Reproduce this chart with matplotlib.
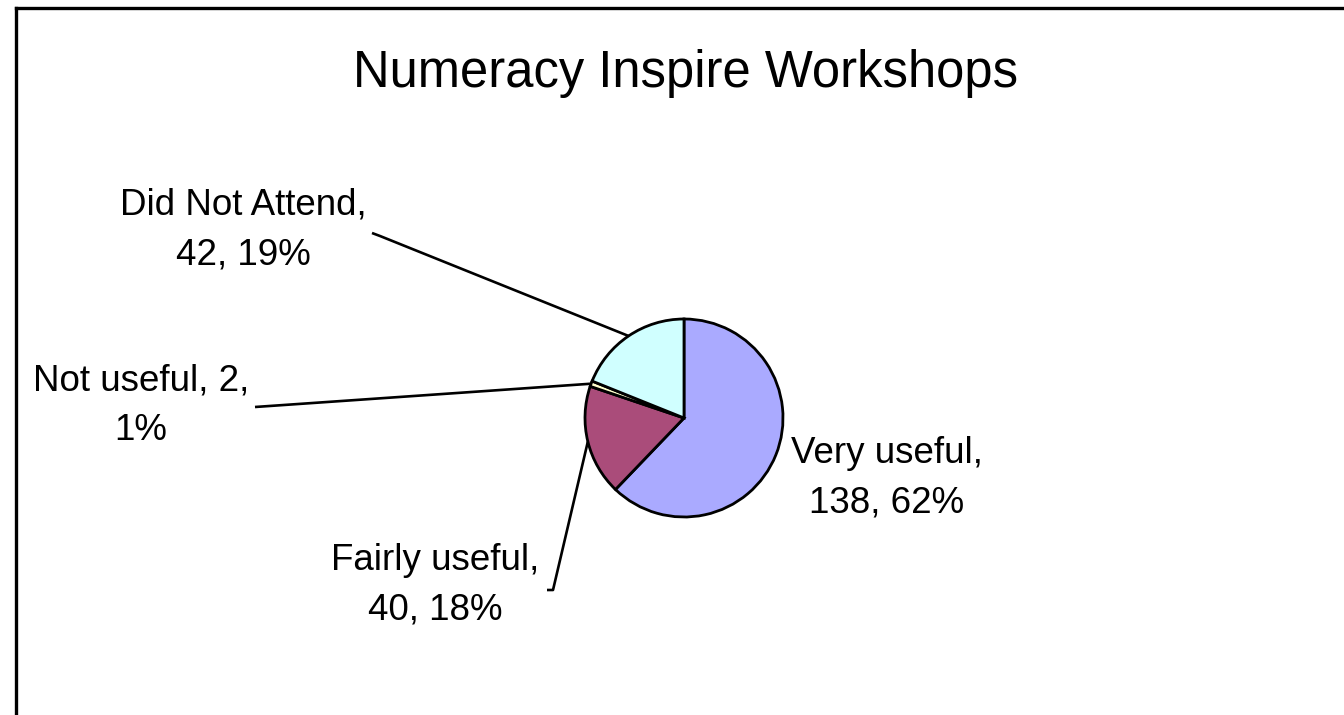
import numpy as np
import matplotlib
matplotlib.use("Agg")
import matplotlib.pyplot as plt

# ---- data ----
categories = ["Very useful", "Fairly useful", "Not useful", "Did Not Attend"]
values = [138, 40, 2, 42]
colors = ["#AAAAFF", "#AA4C7A", "#FFFFCC", "#D0FFFF"]
break_after_value = [False, False, True, False]
title = "Numeracy Inspire Workshops"

W, H = 1344, 715
fig = plt.figure(figsize=(W / 100, H / 100), dpi=100)
ax = fig.add_axes([0, 0, 1, 1])

def Y(yi):
    return H - yi

cx, cy, r = 684, Y(418), 99
wedges, _ = ax.pie(values, colors=colors, startangle=90, counterclock=False,
                   center=(cx, cy), radius=r,
                   wedgeprops=dict(edgecolor="black", linewidth=2))
ax.set_xlim(0, W)
ax.set_ylim(0, H)
ax.set_aspect("equal")
ax.axis("off")

total = sum(values)
font = ["Liberation Sans", "DejaVu Sans"]
fs = 26.5

# label layout (image coords): center x, center y of the 2-line block
label_pos = [(887, 478), (435, 585), (141, 406), (243, 230)]
# leader line start points (image coords), None = no leader
leader_pts = [None,
              [(547, 590), (553, 590)],
              [(255, 407)],
              [(372, 233), (380, 236)]]

for i, (cat, v) in enumerate(zip(categories, values)):
    p = round(v / total * 100)
    if break_after_value[i]:
        txt = f"{cat}, {v},\n{p}%"
    else:
        txt = f"{cat},\n{v}, {p}%"
    x, yi = label_pos[i]
    ax.text(x, Y(yi), txt, ha="center", va="center", fontsize=fs,
            family=font, linespacing=1.55, multialignment="center")
    if leader_pts[i] is not None:
        w = wedges[i]
        mid = np.deg2rad((w.theta1 + w.theta2) / 2)
        ex, ey = cx + r * np.cos(mid), cy + r * np.sin(mid)
        xs = [pt[0] for pt in leader_pts[i]] + [ex]
        ys = [Y(pt[1]) for pt in leader_pts[i]] + [ey]
        ax.plot(xs, ys, color="black", linewidth=1.9, solid_capstyle="butt")

ax.text(686, Y(87), title, ha="center", va="baseline", fontsize=36.5,
        family=["Liberation Sans Narrow", "Liberation Sans", "DejaVu Sans"])

# outer frame (top and left edges visible)
ax.plot([15.5, W + 5], [Y(8), Y(8)], color="black", linewidth=2.4,
        solid_capstyle="projecting")
ax.plot([15.5, 15.5], [Y(8), -5], color="black", linewidth=2.4,
        solid_capstyle="projecting")

fig.savefig("out.png", dpi=100)
